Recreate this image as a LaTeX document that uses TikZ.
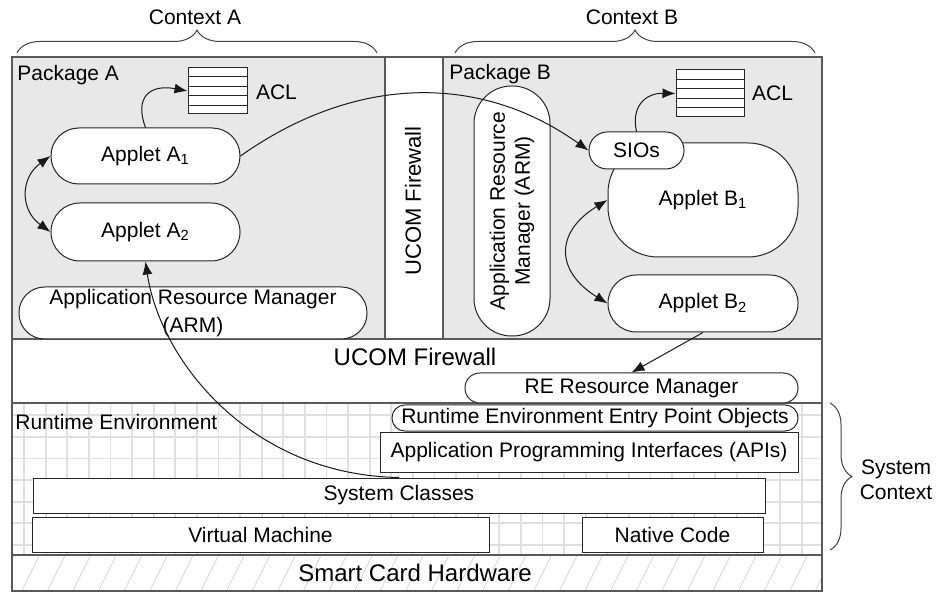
\documentclass[tikz,border=0pt]{standalone}
\usepackage{fontspec}
\setmainfont{Liberation Sans}
\usetikzlibrary{arrows.meta,decorations.pathreplacing,calc}
\newcommand\mainfs{\fontsize{10.5}{14}\selectfont}
\newcommand\bigfs{\fontsize{12}{14}\selectfont}
\begin{document}
\begin{tikzpicture}[x=0.5pt,y=-0.5pt,
  pkgfill/.style={fill=black!9},
  frameline/.style={draw=black!65,line width=0.75pt},
  gridline/.style={draw=black!12,line width=0.9pt},
  hatchline/.style={draw=black!16,line width=0.45pt},
  shp/.style={draw=black!85,line width=0.5pt,fill=white,inner sep=0pt,font=\mainfs},
  lbl/.style={inner sep=0pt,font=\mainfs},
  biglbl/.style={inner sep=0pt,font=\bigfs},
  acl/.style={draw=black!85,line width=0.5pt,fill=white,inner sep=0pt},
  arr/.style={-{Latex[length=6.5pt,width=5pt]},draw=black!90,line width=0.5pt},
  dblarr/.style={{Latex[length=6.5pt,width=5pt]}-{Latex[length=6.5pt,width=5pt]},draw=black!90,line width=0.5pt},
  bracel/.style={draw=black!75,line width=0.5pt,decorate},
]
\useasboundingbox (0,0) rectangle (946,592);

% backgrounds
\fill[pkgfill] (12,57) rectangle (385,339);
\fill[pkgfill] (443,57) rectangle (822,339);
\begin{scope}
  \clip (12,403) rectangle (822,555);
  \foreach \i in {0,...,37} \draw[gridline] ({24+21.6*\i},403) -- ++(0,152);
  \foreach \j in {0,...,6} \draw[gridline] (12,{415.3+21.6*\j}) -- (822,{415.3+21.6*\j});
\end{scope}
\begin{scope}
  \clip (12,555) rectangle (822,591);
  \foreach \i in {0,...,33} \draw[hatchline] ({-4+25.6*\i},591) -- ++(18,-36);
\end{scope}

% frame
\draw[frameline] (12,57) rectangle (822,591);
\draw[frameline] (385,57) -- (385,339);
\draw[frameline] (443,57) -- (443,339);
\draw[frameline] (12,339) -- (822,339);
\draw[frameline] (12,403) -- (822,403);
\draw[frameline] (12,555) -- (822,555);

% braces and context labels
\draw[bracel,decoration={brace,amplitude=11.5pt}] (17,53) -- (377,53);
\draw[bracel,decoration={brace,amplitude=11.5pt}] (455,53) -- (815,53);
\draw[bracel,decoration={brace,amplitude=11pt}] (830,403) -- (830,550);
\node[lbl] (ctxA) at (195,17) {Context A};
\node[lbl] (ctxB) at (632,17) {Context B};
\node[lbl,align=center,font=\fontsize{10.5}{12.5}\selectfont] (sysctx) at (896,479.5) {System\\Context};

% layer labels
\node[lbl,anchor=west] (pkgA) at (17,75) {Package A};
\node[lbl,anchor=west] (pkgB) at (449,74) {Package B};
\node[lbl,anchor=west] (rtenv) at (15,422) {Runtime Environment};
\node[biglbl] (fwh) at (415,357) {UCOM Firewall};
\node[biglbl] (hw) at (415,573) {Smart Card Hardware};
\node[lbl,rotate=90,font=\fontsize{11}{13}\selectfont] (fwv) at (413,201) {UCOM Firewall};

% Package A
\node[acl,minimum width=29.5pt,minimum height=23pt] (aclA) at (217.5,91) {};
\foreach \i in {1,...,4}
  \draw[black!85,line width=0.5pt] ($(aclA.north west)!\i/5!(aclA.south west)$) -- ($(aclA.north east)!\i/5!(aclA.south east)$);
\node[lbl] (aclAl) at (276.5,92) {ACL};
\node[shp,minimum width=94.5pt,minimum height=28pt,rounded corners=13.9pt] (a1) at (145.5,156) {Applet A\textsubscript{1}};
\node[shp,minimum width=94.5pt,minimum height=29pt,rounded corners=14.4pt] (a2) at (145.5,232) {Applet A\textsubscript{2}};
\node[shp,minimum width=174pt,minimum height=26pt,rounded corners=12.8pt,align=center] (armA) at (193,313) {Application Resource Manager\\(ARM)};

% Package B
\node[acl,minimum width=34pt,minimum height=23.5pt] (aclB) at (710,93.5) {};
\foreach \i in {1,...,4}
  \draw[black!85,line width=0.5pt] ($(aclB.north west)!\i/5!(aclB.south west)$) -- ($(aclB.north east)!\i/5!(aclB.south east)$);
\node[lbl] (aclBl) at (772.5,93) {ACL};
\node[shp,rotate=90,minimum width=125pt,minimum height=38pt,rounded corners=18.8pt,align=center,font=\fontsize{10.5}{12.5}\selectfont] (armB) at (512,211) {Application Resource\\Manager (ARM)};
\node[shp,minimum width=95pt,minimum height=57pt,rounded corners=25pt] (b1) at (703,200) {Applet B\textsubscript{1}};
\node[shp,minimum width=47.5pt,minimum height=18.5pt,rounded corners=9.1pt] (sios) at (636.5,150.5) {SIOs};
\node[shp,minimum width=95pt,minimum height=28.5pt,rounded corners=14.1pt] (b2) at (703,303.5) {Applet B\textsubscript{2}};

% Runtime environment
\node[shp,minimum width=166.5pt,minimum height=15pt,rounded corners=7.4pt] (rerm) at (631.5,388) {RE Resource Manager};
\node[shp,minimum width=209pt,minimum height=20pt] (apis) at (589,452) {Application Programming Interfaces (APIs)};
\node[shp,minimum width=203pt,minimum height=13pt,rounded corners=6.4pt] (reep) at (595,418) {Runtime Environment Entry Point Objects};
\node[shp,minimum width=366pt,minimum height=17.5pt] (sysc) at (399,495.5) {System Classes};
\node[shp,minimum width=228.5pt,minimum height=17.5pt] (vm) at (260.5,534.5) {Virtual Machine};
\node[shp,minimum width=90.5pt,minimum height=17.5pt] (nc) at (672.5,534.5) {Native Code};

% connectors
\draw[arr] (a1.north) .. controls (134,97) and (150,84) .. (aclA.west);
\draw[dblarr] (a1.west) .. controls (20,178) and (20,210) .. (a2.west);
\draw[arr] (a1.east) .. controls (352,77) and (477,71) .. (sios.west);
\draw[arr] (sios.north) .. controls (631,107) and (645,93) .. (aclB.west);
\draw[dblarr] (b1.west) .. controls (555,232) and (555,271) .. (b2.west);
\draw[arr] (b2.south) -- (rerm.north);
\draw[arr] (sysc.north) .. controls (250,475) and (160,360) .. (a2.south);
\end{tikzpicture}
\end{document}
